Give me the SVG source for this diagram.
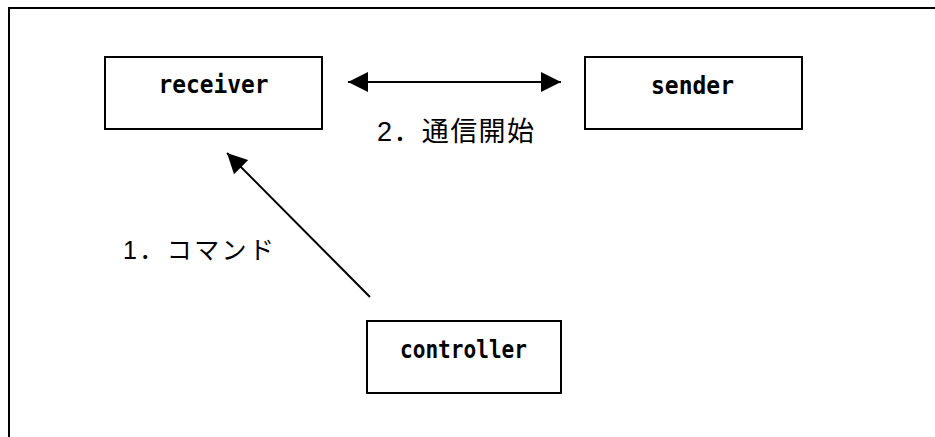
<svg xmlns="http://www.w3.org/2000/svg" width="935" height="437" viewBox="0 0 935 437">
<style>
.box{fill:#fff;stroke:#000;stroke-width:2}
.nl{font-family:"DejaVu Sans Mono","Liberation Mono",monospace;font-weight:bold;font-size:25px;fill:#000;text-anchor:middle}
.lbl{font-family:"Liberation Sans","Noto Sans CJK JP",sans-serif;fill:#000}
.conn{stroke:#000;stroke-width:2;fill:none}
</style>
<defs>
<marker id="ah" markerUnits="userSpaceOnUse" markerWidth="20" markerHeight="20" viewBox="0 0 20 20" refX="20" refY="10" orient="auto-start-reverse">
<path d="M0,0 L20,10 L0,20 Z" fill="#000"/>
</marker>
</defs>
<rect width="935" height="437" fill="#fff"/>
<path id="frame" d="M9,437 V8 H935" fill="none" stroke="#000" stroke-width="2"/>
<g id="receiver">
<rect class="box" x="105" y="57" width="217" height="72"/>
<text class="nl" x="213.5" y="93" textLength="110" lengthAdjust="spacingAndGlyphs">receiver</text>
</g>
<g id="sender">
<rect class="box" x="585" y="57" width="217" height="72"/>
<text class="nl" x="692.5" y="94" textLength="83" lengthAdjust="spacingAndGlyphs">sender</text>
</g>
<g id="controller">
<rect class="box" x="367" y="321" width="194" height="72"/>
<text class="nl" x="463.5" y="358" textLength="127" lengthAdjust="spacingAndGlyphs">controller</text>
</g>
<g id="connectors">
<line class="conn" x1="348" y1="82" x2="561" y2="82" marker-start="url(#ah)" marker-end="url(#ah)"/>
<line class="conn" x1="370" y1="297" x2="227" y2="153" marker-end="url(#ah)"/>
<text class="lbl" x="377" y="141" font-size="27" textLength="157" lengthAdjust="spacing">2．通信開始</text>
<text class="lbl" x="123" y="259" font-size="25" textLength="151" lengthAdjust="spacing">1．コマンド</text>
</g>
</svg>
